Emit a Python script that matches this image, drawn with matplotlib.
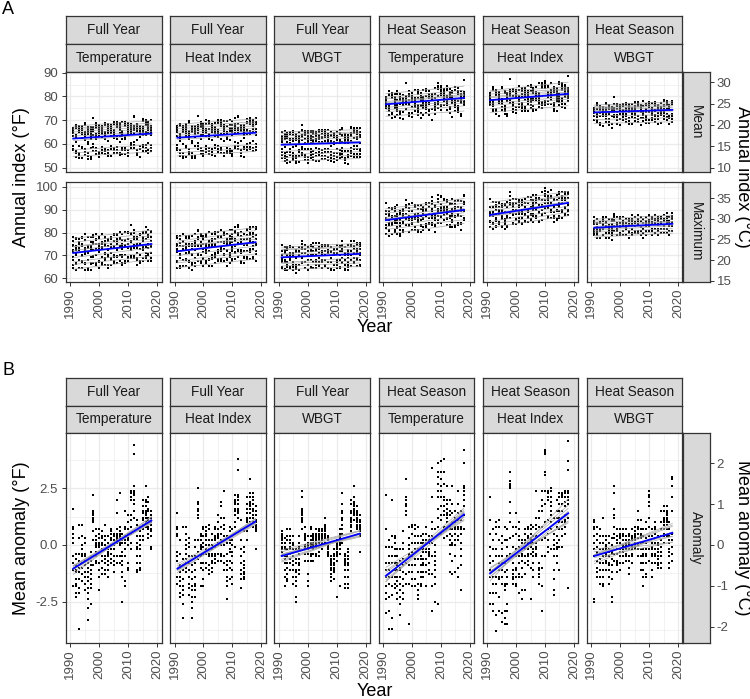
import numpy as np
import matplotlib
matplotlib.use("Agg")
import matplotlib.pyplot as plt
from matplotlib.ticker import MultipleLocator, FixedLocator

plt.rcParams["font.family"] = ["Liberation Sans", "DejaVu Sans"]
plt.rcParams["axes.unicode_minus"] = False

W, H = 750, 699

years = np.array(list(range(1991, 2019)))

seasons = ["Full Year", "Full Year", "Full Year", "Heat Season", "Heat Season", "Heat Season"]
indices = ["Temperature", "Heat Index", "WBGT", "Temperature", "Heat Index", "WBGT"]

# station levels (deg F) for the Mean row and the Maximum row, one value per station
mean_levels = [
    [55.7, 57.2, 58.5, 62.7, 64.2, 65.2, 66.2, 67.0, 67.8, 68.7],
    [55.9, 57.3, 58.8, 63.0, 64.5, 65.6, 66.6, 67.5, 68.4, 69.4],
    [53.4, 54.8, 56.2, 57.6, 60.6, 61.9, 63.0, 63.9, 64.7, 65.4],
    [72.8, 74.8, 75.8, 76.8, 77.8, 78.8, 79.4, 80.3, 81.3, 82.8],
    [74.5, 76.0, 77.5, 78.5, 79.5, 80.5, 81.3, 82.2, 83.0, 84.0],
    [69.2, 70.7, 72.2, 73.2, 73.7, 74.5, 75.2, 75.7, 76.4, 77.2],
]
max_levels = [
    [65.7, 67.7, 69.2, 71.2, 72.7, 74.2, 75.2, 76.2, 77.7, 79.2],
    [66.5, 68.5, 70.0, 72.0, 73.5, 75.0, 76.0, 77.0, 78.5, 80.3],
    [64.5, 66.0, 67.0, 68.0, 70.0, 71.0, 72.0, 73.0, 73.5, 74.5],
    [81.3, 83.3, 84.8, 86.3, 87.3, 88.3, 89.3, 90.3, 91.3, 92.8],
    [84.5, 86.0, 87.5, 89.0, 90.0, 91.0, 92.0, 93.0, 94.0, 95.5],
    [78.7, 79.7, 80.7, 81.7, 82.7, 83.5, 84.2, 85.0, 85.7, 86.7],
]

# anomaly of the annual mean (deg F); rows = 1991..2018, columns = stations
anom_fy_temp = """
1.6 0.8 0.7 0.5 0.3 0.1 -0.5 -0.8 -1.1 -1.8
-1.1 -1.2 -1.5 -1.7 -1.8 -2.1 -2.3 -0.4 -0.6 -0.9
-1.5 -1.9 -2.1 -3.7 0.9 0.3 -0.4 -0.7 -1.0 -1.2
-1.6 0.9 0.4 0.0 -0.2 -0.4 -0.5 -0.8 -1.0 -1.3
-0.4 -0.5 -0.7 -0.9 -1.2 -1.4 -1.7 -2.0 0.3 0.1
-1.9 -2.1 -2.4 -2.8 -3.3 -0.8 -1.0 -1.2 -1.4 -1.6
-1.9 -2.6 -0.3 -0.5 -0.7 -0.9 -1.1 -1.3 -1.5 -1.7
1.5 1.4 1.3 1.2 1.1 1.0 0.6 0.2 -0.9 2.2
0.0 -0.1 -0.3 -0.5 -0.7 -0.8 0.7 0.4 0.2 0.1
-1.1 -1.4 -2.0 0.7 0.5 0.3 0.1 0.0 -0.1 -0.8
0.6 0.4 0.3 0.1 0.0 -0.2 -0.5 -0.7 -1.0 -1.3
0.0 -0.2 -0.5 -0.6 -0.8 -1.1 -1.3 0.9 0.4 0.2
-0.7 -0.9 -1.1 -1.4 0.4 0.1 -0.2 -0.3 -0.4 -0.5
-0.8 0.7 0.6 0.5 0.3 0.2 0.0 -0.2 -0.4 -0.6
0.4 0.2 0.0 -0.2 -0.5 -0.7 -0.9 -1.2 0.5 0.4
0.3 0.2 0.1 -0.5 -0.8 2.0 1.4 0.7 0.5 0.4
-0.5 -0.8 2.3 0.8 0.6 0.5 0.4 0.3 0.1 0.0
0.2 0.1 -0.3 -0.5 -0.7 -0.9 -1.2 -1.4 -2.5 0.5
0.2 0.1 -0.2 -0.5 -1.6 -1.8 1.5 0.8 0.7 0.4
-0.8 -1.0 -1.1 1.3 1.0 0.7 0.5 0.3 0.2 0.0
2.4 2.3 2.1 2.0 1.3 1.1 0.8 0.5 0.1 -0.2
2.4 2.3 2.2 2.0 1.8 1.5 1.2 4.4 4.0 2.6
-0.5 -0.8 -1.1 -1.2 1.1 0.9 0.4 0.1 -0.1 -0.2
-1.1 0.8 0.6 0.4 0.2 0.0 -0.2 -0.5 -0.8 -1.0
1.5 1.4 1.2 1.1 0.9 0.7 0.4 0.2 2.0 1.7
1.4 1.3 1.2 1.0 0.8 2.6 2.0 1.9 1.7 1.5
0.5 0.3 2.1 1.9 1.6 1.5 1.2 1.1 0.8 0.7
1.3 1.2 1.0 0.9 0.7 0.6 0.4 -0.1 -0.2 1.5
"""

anom_fy_hi = """
1.4 0.8 0.7 0.5 0.4 -0.3 -0.5 -0.7 -1.4 -1.7
-1.0 -1.2 -1.4 -1.6 -1.8 -2.1 -2.3 0.2 -0.4 -0.9
-2.0 -2.2 -2.6 -3.2 0.8 -0.6 -0.9 -1.1 -1.5 -1.8
-1.2 0.8 0.5 0.2 0.0 -0.2 -0.4 -0.6 -0.8 -1.0
-0.1 -0.5 -0.8 -1.1 -1.4 -1.7 -1.9 -2.2 0.3 0.1
-2.0 -2.3 -2.5 -2.8 -3.2 -0.5 -0.9 -1.2 -1.5 -1.8
-2.0 -2.3 0.2 -0.1 -0.5 -0.8 -1.1 -1.4 -1.7 -1.8
1.9 1.8 1.6 1.5 1.3 1.2 0.2 -0.3 -0.6 2.5
-0.1 -0.2 -0.5 -0.8 -1.0 -1.8 0.5 0.4 0.2 0.0
-1.1 -1.5 -1.8 0.8 0.7 0.4 0.1 -0.1 -0.4 -0.8
0.8 0.5 0.4 0.2 0.0 -0.4 -0.8 -1.0 -0.2 0.6
0.0 -0.2 -0.5 -0.9 -1.1 -1.3 -0.4 0.9 0.7 0.2
-0.4 -0.7 -1.0 -1.2 0.5 0.2 0.0 -0.2 -0.5 -0.8
-0.8 0.8 0.7 0.4 0.2 -0.1 -0.4 -0.5 0.3 -0.6
0.7 0.4 0.3 0.1 0.0 -0.4 -0.7 1.3 1.0 0.5
0.2 0.0 -0.5 -0.7 -0.4 1.9 1.7 1.2 0.8 0.5
-0.8 -1.1 2.4 1.2 0.9 0.7 0.4 0.0 -0.5 0.2
0.1 -0.4 -0.7 -1.1 -1.4 -1.6 -1.8 -2.4 -0.9 0.4
0.2 -0.2 -1.0 -1.5 0.8 0.4 0.1 -0.7 -0.3 0.6
-1.1 -1.4 -1.7 0.7 0.4 0.0 -0.5 -0.8 -0.3 0.2
2.2 2.0 1.9 1.8 1.5 1.3 1.0 0.8 -0.1 1.6
2.1 2.0 1.8 1.5 1.4 1.2 1.6 3.8 3.3 2.2
-0.8 -1.1 -1.5 -1.9 1.1 0.7 0.2 -0.2 -0.5 -1.3
-1.5 0.6 -0.1 -0.3 -0.7 -0.9 -1.0 -1.2 -1.3 -1.4
1.6 1.4 1.2 1.0 0.8 0.2 2.1 1.8 0.6 1.1
1.8 1.6 1.4 1.2 1.0 2.9 2.3 2.1 1.9 1.7
1.2 1.0 2.3 2.1 2.0 1.8 1.6 1.5 1.3 0.8
1.5 1.3 1.1 0.8 0.7 0.6 -0.2 1.0 0.9 1.7
"""

anom_fy_wbgt = """
0.6 0.5 0.4 0.2 0.1 -0.1 -0.3 -0.5 0.3 -0.2
-0.5 -0.8 -1.1 -1.4 -1.8 0.3 0.1 -0.2 -0.6 -0.1
-1.3 -1.5 -1.6 -1.0 0.4 0.7 0.2 -0.2 -0.5 -0.8
-1.1 0.7 0.4 0.1 -0.1 -0.4 -0.8 0.2 -0.6 -0.2
-0.2 -0.7 -1.1 -1.4 -1.7 -0.5 -0.9 0.0 0.4 0.1
-1.6 -1.8 -2.3 -2.5 -1.4 -0.2 -0.6 -0.8 -1.1 -1.2
-0.9 0.1 0.4 -0.1 -0.4 -0.6 -0.8 -1.1 -1.3 -0.2
2.1 1.6 1.5 1.3 1.2 1.1 0.7 1.4 1.0 2.4
-0.2 -0.4 -0.7 0.2 -0.1 0.4 0.8 0.5 0.3 0.0
-1.3 -1.6 -1.8 0.4 0.1 -0.1 -0.4 -0.7 -0.2 0.0
0.8 0.7 0.4 0.1 -0.1 -0.4 -0.5 -0.7 0.2 0.0
0.0 -0.2 -0.4 -0.7 0.3 -0.1 0.1 0.5 0.4 0.2
-0.5 0.2 0.0 0.5 0.7 0.4 0.3 0.1 -0.1 -0.4
-0.5 0.7 0.6 0.4 0.3 0.1 -0.1 -0.3 0.2 0.5
0.4 0.2 0.0 -0.2 0.3 0.6 0.1 0.4 0.7 0.5
0.1 0.0 0.6 0.4 0.8 1.2 0.9 0.7 0.5 0.3
0.0 -0.3 0.4 0.2 0.1 -0.1 -0.2 -0.4 -0.5 0.3
-0.7 -0.8 -1.0 -1.1 -1.3 -1.4 -1.6 -0.6 -0.9 -0.5
-1.0 -1.1 -1.2 -1.5 -0.5 -0.9 -0.2 -0.4 -0.6 -0.8
-0.1 -0.3 0.1 0.2 0.0 -0.2 -0.4 -0.7 -2.3 -0.5
0.7 0.4 0.2 0.0 -0.2 -0.4 -1.8 0.5 0.1 0.3
1.2 1.1 0.7 0.5 0.1 1.4 0.9 2.3 1.8 1.5
-1.4 -1.7 -1.9 -0.6 -0.4 -0.5 -0.7 -0.8 -0.9 -1.1
-1.9 -0.3 -0.9 -0.6 -0.2 -0.5 -0.8 -1.1 -1.4 -1.7
1.5 1.2 1.0 0.8 0.6 1.4 1.1 0.9 2.0 1.8
1.3 1.1 1.6 1.4 1.8 2.6 2.1 1.9 1.7 1.5
1.2 0.9 1.7 1.5 1.3 1.1 1.0 0.8 0.7 1.4
1.0 0.8 0.7 0.4 -0.3 0.9 0.6 1.1 0.5 1.3
"""

anom_hs_temp = """
2.2 0.7 -0.1 -0.8 -1.1 -1.4 -1.8 -2.1 -2.4 -3.0
-0.8 -1.1 -1.4 -1.7 -2.3 -2.9 -3.7 0.2 -0.1 -0.5
-1.8 -2.2 -3.2 -3.7 2.0 0.4 -0.1 -0.5 -0.8 -1.4
-1.4 0.4 0.3 0.1 -0.2 -0.5 -0.8 -1.1 -1.7 -1.9
-0.8 -1.1 -1.4 -1.8 -2.1 -2.4 -0.9 -1.6 -0.2 -0.5
-2.0 -2.3 -2.6 -3.1 -1.0 -0.2 -0.7 -1.1 -1.4 -1.7
-2.4 -1.5 0.6 0.1 -0.2 -0.6 -0.9 -1.2 -1.8 -2.1
2.1 2.0 1.8 1.7 1.5 1.3 -0.8 -1.3 -1.7 2.9
-0.9 -1.7 -3.5 0.0 -1.2 -0.4 0.8 0.3 -0.2 -0.5
-1.5 -1.8 -0.3 0.9 0.8 0.5 0.1 -0.5 -0.9 -1.2
0.9 0.7 0.4 0.1 -0.2 -0.6 -0.9 -1.5 -1.8 -0.2
-0.6 -1.2 -1.7 -2.0 -2.2 -2.4 0.1 0.8 0.4 -0.2
-1.7 -1.8 0.1 -0.5 0.4 -0.2 -0.6 -0.9 -1.2 -1.4
-0.8 0.5 0.2 0.1 -0.3 -0.6 -0.9 -1.2 -1.4 -0.2
0.2 0.1 -0.3 -0.6 -0.9 -1.2 -1.8 -0.2 0.8 0.5
-0.8 -1.1 -1.3 0.2 -0.4 0.4 0.1 -0.2 -0.3 -0.5
-2.9 0.1 3.4 2.1 1.0 0.7 0.4 -0.5 -1.3 -1.8
0.0 -0.5 -0.7 -1.1 -1.4 -1.7 -2.5 -0.9 -0.3 0.7
2.4 2.1 1.2 0.8 -2.6 1.6 3.6 3.2 3.0 2.7
1.3 1.1 0.5 3.7 3.2 2.9 2.6 2.4 2.1 1.7
3.8 3.2 2.7 2.1 2.0 1.7 1.5 1.3 0.8 0.3
1.6 1.4 1.3 1.0 0.7 1.2 0.4 2.6 2.0 1.8
0.2 0.0 -0.4 -1.2 2.0 1.5 1.3 0.8 0.7 0.5
-1.3 2.6 1.8 1.4 1.0 0.7 0.4 0.1 0.0 -0.7
1.0 0.8 0.7 0.5 0.2 0.0 -0.5 -1.2 1.5 1.2
0.7 0.4 -1.4 -1.0 0.2 2.4 1.8 1.4 1.1 0.8
-0.9 -2.0 1.5 1.1 0.8 0.7 0.5 0.1 -0.2 -0.5
3.6 2.6 2.5 2.4 2.2 2.0 1.7 1.3 0.7 4.2
"""

anom_hs_hi = """
2.1 1.1 0.5 -0.1 -0.5 -0.8 -1.1 -1.4 -2.1 -2.6
-0.7 -1.1 -1.4 -1.7 -2.1 -2.6 -2.9 0.7 0.2 -0.2
-1.7 -2.1 -3.1 -3.8 1.0 0.8 0.5 -0.2 -0.5 -1.4
-2.9 1.1 0.8 0.2 -0.5 -0.8 -1.1 -1.4 -1.5 -2.3
-0.2 -0.5 -0.8 -1.1 -1.4 -1.7 -3.0 -3.4 0.4 0.1
-1.8 -2.0 -2.9 -3.2 -3.5 0.8 0.2 -0.8 -1.2 -1.7
-2.9 -3.5 0.7 0.2 -0.1 -0.5 -1.1 -1.4 -1.7 -2.6
2.8 2.7 2.6 2.5 1.9 1.4 1.0 0.3 -0.4 3.2
-1.1 -1.3 -1.4 -1.5 -1.7 -0.5 0.8 0.4 -0.1 -0.8
-1.4 -1.7 -1.8 1.4 0.8 0.5 -0.2 -0.5 -1.0 -1.1
1.0 0.7 0.4 -0.5 -0.8 -1.3 -1.4 -2.1 -0.1 0.2
-0.5 -1.0 -1.4 -2.0 -2.4 -0.7 -0.2 0.2 0.1 -0.4
-0.8 -1.3 -2.0 -0.1 0.7 0.5 0.2 0.1 -0.2 -0.5
-0.5 0.8 0.7 0.4 0.1 -0.2 -0.4 -0.7 -0.9 0.3
0.5 0.2 0.1 -0.1 -0.4 -1.0 -2.4 0.3 0.9 0.7
-0.8 -1.1 -1.4 0.2 -0.3 0.8 0.4 0.1 -0.2 -0.5
-0.1 2.4 1.2 0.7 0.4 -0.2 -0.4 -0.5 0.9 0.1
1.2 0.8 0.2 -0.8 -1.0 -1.1 -1.3 -1.4 -1.7 1.5
0.8 0.2 -0.5 -1.0 -1.8 -2.9 2.4 2.0 1.7 1.5
1.8 1.0 0.3 -0.5 4.2 4.1 4.0 3.2 3.1 2.4
2.4 2.3 2.1 2.0 0.7 0.2 -0.1 -0.3 1.1 0.5
2.5 2.4 2.1 1.9 1.7 1.3 1.0 0.7 -0.2 1.5
-0.5 -1.1 -1.5 -2.0 -2.2 1.2 0.5 0.2 0.0 -0.2
-0.8 2.0 1.5 1.2 0.8 0.4 0.1 -0.1 -0.2 -0.5
1.8 1.5 1.2 1.0 0.7 0.2 -0.1 -1.1 2.3 2.1
1.2 1.0 0.7 0.4 -0.1 2.3 2.2 2.1 1.8 1.5
0.5 1.0 2.4 2.3 2.1 1.9 1.7 1.3 1.1 0.8
3.7 3.3 2.4 2.3 2.1 2.0 1.8 1.2 -1.9 4.6
"""

anom_hs_wbgt = """
1.1 1.0 0.8 0.7 0.4 0.1 -0.2 -0.5 -2.4 -2.5
-0.1 -0.4 -0.7 -1.0 -1.2 -1.4 -0.3 0.8 0.5 0.2
-1.4 -1.7 -0.6 -0.2 0.7 0.4 0.1 -0.4 -0.8 -1.1
-1.8 1.2 0.4 0.1 -0.2 -0.5 -0.8 -1.1 -1.4 -1.7
-0.1 -0.2 -0.5 -0.8 -1.1 -0.4 0.0 -0.7 0.4 0.2
-1.1 -1.4 -1.7 -0.3 -0.9 0.4 0.1 -0.2 -0.5 -0.8
-2.3 -2.5 -0.4 0.3 0.0 -0.3 -0.6 -0.9 -1.2 -1.5
2.3 1.6 1.3 1.2 0.8 0.3 -0.4 -0.7 0.5 2.6
-0.7 -0.8 -0.9 -1.2 -0.2 0.2 0.7 0.4 0.1 -0.4
-1.1 -0.3 0.3 0.7 0.5 0.4 0.1 -0.2 -0.5 -0.8
0.7 0.5 0.2 0.0 -0.2 -0.5 -0.8 0.4 -0.1 -0.3
-0.1 -0.2 -0.5 -0.7 0.2 -0.4 0.0 0.7 0.4 0.1
-0.7 -1.0 -1.3 0.1 0.5 0.4 0.2 0.0 -0.2 -0.5
-0.8 0.7 0.4 0.2 0.0 -0.1 -0.4 -0.5 0.3 -0.2
0.4 0.1 -0.1 -0.2 0.5 0.3 0.0 0.2 0.8 0.6
0.1 -0.2 -0.5 0.7 0.0 1.5 1.1 0.8 0.5 0.3
-1.1 0.3 1.1 0.7 0.5 0.4 0.1 -0.2 -0.5 -0.8
0.4 0.1 -0.2 -0.5 -0.8 -1.1 -1.4 -1.8 -0.4 0.7
-0.5 -0.8 -1.3 -1.4 -0.4 0.3 1.0 0.7 0.1 -0.2
-0.2 -0.7 1.2 2.4 2.2 2.1 1.9 1.7 0.8 0.4
0.7 0.4 -0.1 -0.2 -0.4 -0.5 -0.8 -1.1 -1.4 0.1
0.1 -0.2 -0.5 -0.8 0.3 -0.4 0.8 1.0 0.7 0.5
-1.0 0.0 -0.6 -0.3 0.4 0.1 -0.2 -0.5 -0.8 -0.9
-0.3 1.5 1.0 0.7 0.4 -0.1 -0.5 -0.8 -1.0 0.2
1.2 1.1 1.0 0.7 0.4 0.1 0.9 0.5 1.7 1.5
1.0 0.7 0.4 1.3 0.9 1.7 1.5 1.4 1.2 1.1
-1.0 0.2 -0.3 1.0 0.7 0.4 0.1 -0.2 -0.5 -0.8
0.2 -0.1 -0.4 -0.7 3.0 2.9 2.6 2.1 1.5 0.5
"""

# departure of the annual maximum from the station level (deg F)
dep_fy_temp_max = """
-1 -2 0 -3 -1 -2 1 -2 -3 -1
-2 -1 -3 -1 -2 -2 -1 -3 0 -2
-1 -3 -1 -3 0 -2 -2 -1 -2 -2
-1 0 -2 -1 -3 1 -1 -2 0 -1
-2 -1 -3 0 -2 -1 -2 -4 -1 0
-2 -3 -1 -3 -1 -3 -2 -2 -4 -1
-2 -1 -3 -2 0 -2 -1 -3 -2 -1
1 2 0 1 3 1 0 2 1 -1
0 -1 1 -1 0 -2 0 1 -1 0
-1 0 -2 1 -1 0 -2 -1 0 -1
0 -1 0 -2 1 -1 0 -1 -2 0
0 1 -1 0 -2 0 1 -1 0 -1
-1 -2 0 -1 0 -2 -1 0 -1 -2
0 1 -1 0 1 -1 0 1 0 -1
1 0 0 -1 1 0 -1 0 1 0
1 2 0 1 0 1 2 0 1 0
2 0 1 3 1 0 2 1 0 1
0 -1 1 -2 0 -1 0 -2 -1 0
1 0 1 -1 2 0 1 0 -1 1
2 1 0 2 1 3 0 1 2 1
3 2 4 1 3 2 1 3 2 4
3 2 4 3 2 3 3 5 2 2
0 1 -1 0 1 -1 0 1 0 -1
1 0 1 -1 0 1 0 -1 1 0
2 1 3 2 1 2 3 1 2 1
3 2 2 3 1 3 2 4 2 3
2 3 1 2 2 1 3 2 1 2
2 1 2 3 1 2 1 2 3 1
"""

dep_fy_hi_max = """
-2 -1 -3 0 -2 -1 -3 -2 -1 -2
-2 -3 -1 -2 -3 -1 -2 0 -3 -2
-1 -3 -2 -4 -1 -2 0 -3 -2 -1
-1 0 -2 -1 0 -2 -1 1 -1 -2
-2 -1 -3 -1 -2 0 -2 -3 -1 -2
-3 -2 -4 -2 -3 -1 -3 -2 -4 -2
-1 -2 -1 -3 -1 0 -2 -1 -2 -1
1 2 0 2 1 3 1 0 2 1
0 -1 0 -2 1 -1 0 -1 0 -1
-1 0 -1 1 -2 0 -1 0 -1 -2
0 -1 1 0 -1 0 -2 1 0 -1
-1 0 -2 0 1 -1 0 -1 -2 0
-1 0 -1 -2 0 -1 -1 0 -2 -1
0 1 0 -1 1 0 -1 0 1 0
1 0 1 0 -1 1 0 1 0 0
1 0 2 1 0 1 2 1 0 1
1 2 0 1 2 1 0 2 1 0
-1 0 -2 0 -1 1 -1 0 -2 -1
0 1 0 -1 1 0 1 -1 0 1
1 0 2 1 0 1 2 0 1 1
2 3 1 2 3 2 1 3 2 2
3 4 2 3 2 5 3 2 4 3
0 -1 1 0 -1 0 1 -1 0 0
0 1 -1 0 1 0 -1 0 1 -1
2 1 2 3 1 2 1 2 3 1
2 3 2 1 3 2 4 2 3 2
2 1 3 2 2 1 2 3 1 2
1 2 2 3 1 2 1 2 3 2
"""

dep_fy_wbgt_max = """
0 -1 1 -1 0 -2 0 -1 1 0
-1 -2 0 -1 -2 0 -1 -1 0 -2
-1 0 -2 -1 0 -1 -2 0 -1 -1
0 -1 1 0 -1 0 -2 1 0 -1
-1 0 -2 -1 0 -1 -1 -2 0 -1
-2 -1 -3 -2 -1 -2 -3 -1 -2 -2
-1 0 -1 -2 0 -1 0 -1 -2 -1
2 1 2 3 1 2 1 2 0 2
0 1 0 -1 1 0 -1 0 1 0
-1 0 -1 0 -2 -1 0 -1 0 -1
0 -1 1 0 0 -1 0 1 -1 0
0 1 0 -1 0 1 0 -1 0 1
0 0 1 -1 0 1 0 0 -1 1
1 0 0 1 -1 0 1 0 0 1
0 1 1 0 0 1 -1 1 0 0
1 0 1 2 0 1 0 1 1 0
0 1 0 -1 1 0 0 1 -1 0
-1 -2 0 -1 -1 -2 0 -1 -2 -1
-1 0 -1 -2 0 -1 -1 0 -1 -2
0 1 -1 0 1 0 -1 0 1 0
0 -1 1 0 0 -1 0 1 0 -1
2 1 2 1 3 1 2 0 1 2
-1 -2 -1 0 -2 -1 -1 -2 0 -1
-1 0 -2 -1 -1 0 -2 -1 -1 0
1 2 1 2 0 1 2 1 1 2
2 1 2 3 1 2 2 1 3 2
1 2 1 1 2 0 1 2 1 1
1 0 1 2 1 0 1 1 2 0
"""

dep_hs_temp_max = """
-2 0 -3 -1 1 -2 -4 -1 -2 0
-3 -2 -4 -1 -3 -5 -2 -1 -3 -2
-2 -4 -1 -3 0 -2 -5 -3 -1 -2
-1 -2 0 -1 -3 1 -2 -1 0 -2
-2 -1 -3 -2 0 -3 -1 -2 -4 -1
-3 -4 -2 -5 -3 -2 -4 -1 -3 -4
-1 -2 0 -2 -3 -1 0 -2 -1 -3
2 3 1 2 4 0 2 1 3 -1
-1 0 -2 1 -1 -3 0 -1 1 -2
0 1 -1 0 -2 1 0 -1 -2 0
0 -1 1 0 -1 0 -2 1 0 -1
-1 -2 0 -1 1 -2 -1 0 -3 -1
-1 0 -2 -1 0 -1 -2 0 -1 -1
0 -1 1 0 -1 0 1 -1 0 -2
1 0 -1 1 0 2 0 -1 1 0
0 1 -1 0 1 0 -1 1 0 0
2 1 3 0 2 -1 1 2 4 1
-1 0 -2 -1 0 -2 -1 -3 0 -1
3 2 4 1 3 2 0 3 5 2
3 4 2 3 5 2 3 1 4 3
4 2 3 5 2 3 1 4 3 2
2 3 1 2 3 1 2 4 2 1
1 0 2 1 -1 1 0 2 1 0
1 2 0 1 2 0 1 -1 1 2
1 0 2 1 0 1 2 0 1 1
2 1 3 1 2 0 2 1 3 1
0 1 -1 1 0 2 0 1 -1 1
4 3 5 3 2 4 3 6 2 3
"""

dep_hs_hi_max = """
-2 -1 -3 0 -2 -4 -1 -2 -3 -1
-3 -2 -4 -2 -1 -3 -5 -2 -3 -2
-2 -3 -1 -4 -2 -5 -1 -3 -2 -2
-1 -2 -3 0 -2 -1 -3 -2 -1 -2
-2 -3 -1 -2 -4 -2 -1 -3 -2 -3
-3 -2 -4 -3 -5 -2 -3 -4 -2 -3
-2 -3 -1 -2 -3 -4 -1 -2 -3 -2
2 3 1 3 4 2 1 3 2 2
-1 -2 0 -1 -2 -1 0 -2 -1 -1
-1 0 -2 -1 0 -1 -2 0 -1 -1
0 -1 -1 0 -2 0 -1 -1 0 -2
-1 -2 -1 0 -2 -1 -3 -1 0 -2
0 -1 0 -1 -2 0 -1 0 -1 -1
0 1 -1 0 0 -1 1 0 -1 0
1 0 0 -1 1 0 -1 1 0 0
0 1 0 -1 0 1 -1 0 0 1
2 1 3 1 0 2 1 2 0 1
0 -1 1 0 -1 -2 0 -1 1 -1
1 2 0 3 1 -1 2 1 0 2
4 5 3 4 6 3 4 5 3 4
2 1 3 2 1 2 3 1 2 2
2 3 2 1 3 2 4 2 1 3
0 1 -1 0 1 0 -1 1 0 -1
1 0 2 1 0 1 2 1 0 1
2 1 2 3 1 2 1 2 3 2
2 3 2 1 3 2 2 3 1 2
3 2 3 2 1 3 2 2 3 2
3 4 2 3 5 2 3 4 3 2
"""

dep_hs_wbgt_max = """
0 -1 0 -2 -1 0 1 -1 -2 0
-1 0 -2 -1 -1 0 -2 -1 0 -1
-1 -2 0 -1 -1 -2 0 -1 -1 -2
0 -1 1 0 -1 0 -1 0 1 -1
-1 0 -1 -2 0 -1 0 -1 -1 0
-1 -2 -1 0 -2 -1 -1 -2 0 -1
-2 -1 -1 0 -2 -1 -1 0 -2 -1
2 1 2 1 0 2 1 3 1 1
0 -1 0 1 -1 0 0 -1 1 0
0 0 -1 1 0 -1 0 1 0 0
0 1 0 -1 0 0 1 0 -1 0
0 -1 1 0 0 -1 0 1 0 -1
-1 0 0 -1 1 0 -1 0 0 -1
0 0 1 0 -1 0 1 0 0 1
1 0 0 1 0 1 0 -1 1 0
1 1 0 2 1 0 1 1 0 1
0 1 0 1 0 -1 1 0 1 0
-1 0 -1 0 -1 -2 0 -1 0 -1
0 -1 0 -1 0 0 -1 0 -1 0
2 1 2 3 1 2 1 2 2 1
0 -1 0 0 -1 1 0 -1 0 0
1 0 1 0 1 2 0 1 0 1
0 -1 0 0 -1 0 -1 0 1 -1
1 0 1 0 -1 1 0 1 0 0
1 2 1 1 0 2 1 1 2 1
1 2 1 2 1 1 2 0 1 2
0 1 0 1 0 1 -1 0 1 0
2 1 2 1 3 1 2 2 1 2
"""


def table(txt):
    return np.array([row.split() for row in txt.strip().splitlines()], dtype=float)


mean_anoms = [table(t) for t in (anom_fy_temp, anom_fy_hi, anom_fy_wbgt,
                                 anom_hs_temp, anom_hs_hi, anom_hs_wbgt)]
max_deps = [table(t) for t in (dep_fy_temp_max, dep_fy_hi_max, dep_fy_wbgt_max,
                               dep_hs_temp_max, dep_hs_hi_max, dep_hs_wbgt_max)]

mean_vals = [np.array(lv)[None, :] + a for lv, a in zip(mean_levels, mean_anoms)]
max_vals = [np.array(lv)[None, :] + d for lv, d in zip(max_levels, max_deps)]

STRIP = "#D9D9D9"
EDGE = "#333333"
GRID = "#EBEBEB"
TICKTXT = "#4D4D4D"

fig = plt.figure(figsize=(7.5, 6.99), dpi=100)


def rect(x0, y0, x1, y1):
    return [x0 / W, 1 - y1 / H, (x1 - x0) / W, (y1 - y0) / H]


def strip(x0, y0, x1, y1, label, rot=0):
    ax = fig.add_axes(rect(x0, y0, x1, y1))
    ax.set_facecolor(STRIP)
    ax.set_xticks([])
    ax.set_yticks([])
    for s in ax.spines.values():
        s.set_color(EDGE)
        s.set_linewidth(0.9)
    ax.text(0.5, 0.5, label, transform=ax.transAxes, ha="center", va="center",
            fontsize=9.8, color="#1A1A1A", rotation=rot)


def panel(x0, y0, x1, y1, vals, ylim, ymajor, yminor, left, bottom):
    ax = fig.add_axes(rect(x0, y0, x1, y1))
    yr = np.repeat(years[:, None], vals.shape[1], axis=1)
    ax.scatter(yr.ravel(), vals.ravel(), s=3.3, marker="s", color="black",
               linewidths=0, zorder=3)
    ends = years[[0, -1]]
    for j in range(vals.shape[1]):
        k, b = np.polyfit(years, vals[:, j], 1)
        ax.plot(ends, k * ends + b, color="#A8A8A8", lw=0.5, zorder=4)
    k, b = np.polyfit(yr.ravel(), vals.ravel(), 1)
    ax.plot(ends, k * ends + b, color="#0000FF", lw=1.3, zorder=5)

    ax.set_xlim(1988.5, 2021.5)
    ax.set_ylim(*ylim)
    ax.set_xticks([1990, 2000, 2010, 2020])
    ax.xaxis.set_minor_locator(MultipleLocator(5))
    ax.yaxis.set_major_locator(FixedLocator(ymajor))
    ax.yaxis.set_minor_locator(MultipleLocator(yminor))
    ax.grid(which="major", color=GRID, lw=0.9)
    ax.grid(which="minor", color=GRID, lw=0.45)
    ax.set_axisbelow(True)
    ax.tick_params(which="minor", length=0)
    ax.tick_params(which="major", length=2.75, width=0.7, color=EDGE,
                   labelcolor=TICKTXT, labelsize=9.5)
    ax.tick_params(axis="x", labelrotation=90, pad=2)
    ax.tick_params(axis="y", pad=3)
    if not left:
        ax.tick_params(axis="y", left=False, labelleft=False)
    if not bottom:
        ax.tick_params(axis="x", bottom=False, labelbottom=False)
    for s in ax.spines.values():
        s.set_color(EDGE)
        s.set_linewidth(0.9)
    return ax


def right_axis(y0, y1, ylim, ticks):
    ax = fig.add_axes(rect(709.5, y0, 710, y1))
    ax.set_ylim(*ylim)
    ax.yaxis.tick_right()
    ax.set_yticks(ticks)
    ax.set_xticks([])
    for s in ax.spines.values():
        s.set_visible(False)
    ax.patch.set_visible(False)
    ax.tick_params(length=2.75, width=0.7, color=EDGE, labelcolor=TICKTXT,
                   labelsize=9.5, pad=2)


col_x = [66, 170.2, 274.4, 378.6, 482.8, 587]
pw = 95.5

# ---- A ----
ylim_mean = (48.2, 90.3)
ylim_max = (58.4, 102.05)
for i, x in enumerate(col_x):
    strip(x, 16, x + pw, 43.5, seasons[i])
    strip(x, 43.5, x + pw, 72, indices[i])
    panel(x, 72, x + pw, 172, mean_vals[i], ylim_mean, [50, 60, 70, 80, 90], 5,
          left=(i == 0), bottom=False)
    panel(x, 182, x + pw, 282, max_vals[i], ylim_max, [60, 70, 80, 90, 100], 5,
          left=(i == 0), bottom=True)

xr = col_x[-1] + pw
strip(xr, 72, 710, 172, "Mean", rot=-90)
strip(xr, 182, 710, 282, "Maximum", rot=-90)
right_axis(72, 172, tuple((v - 32) / 1.8 for v in ylim_mean), [10, 15, 20, 25, 30])
right_axis(182, 282, tuple((v - 32) / 1.8 for v in ylim_max), [15, 20, 25, 30, 35])

fig.text(2 / W, 1 - 1 / H, "A", fontsize=13, ha="left", va="top")
fig.text(22 / W, 1 - 177 / H, "Annual index (°F)", rotation=90, fontsize=13,
         ha="center", va="center")
fig.text(742 / W, 1 - 177 / H, "Annual index (°C)", rotation=-90, fontsize=13,
         ha="center", va="center")
fig.text(374.5 / W, 1 - 327 / H, "Year", fontsize=13, ha="center", va="center")

# ---- B ----
ylim_b = (-4.31, 4.95)
for i, x in enumerate(col_x):
    strip(x, 378.3, x + pw, 405.5, seasons[i])
    strip(x, 405.5, x + pw, 432.7, indices[i])
    panel(x, 432.7, x + pw, 642.7, mean_anoms[i], ylim_b, [-2.5, 0.0, 2.5], 1.25,
          left=(i == 0), bottom=True)

strip(xr, 432.7, 710, 642.7, "Anomaly", rot=-90)
right_axis(432.7, 642.7, tuple(v / 1.8 for v in ylim_b), [-2, -1, 0, 1, 2])

fig.text(2 / W, 1 - 362 / H, "B", fontsize=13, ha="left", va="top")
fig.text(22 / W, 1 - 537.7 / H, "Mean anomaly (°F)", rotation=90, fontsize=13,
         ha="center", va="center")
fig.text(742 / W, 1 - 537.7 / H, "Mean anomaly (°C)", rotation=-90, fontsize=13,
         ha="center", va="center")
fig.text(374.5 / W, 1 - 692 / H, "Year", fontsize=13, ha="center", va="center")

fig.savefig("out.png", dpi=100)
